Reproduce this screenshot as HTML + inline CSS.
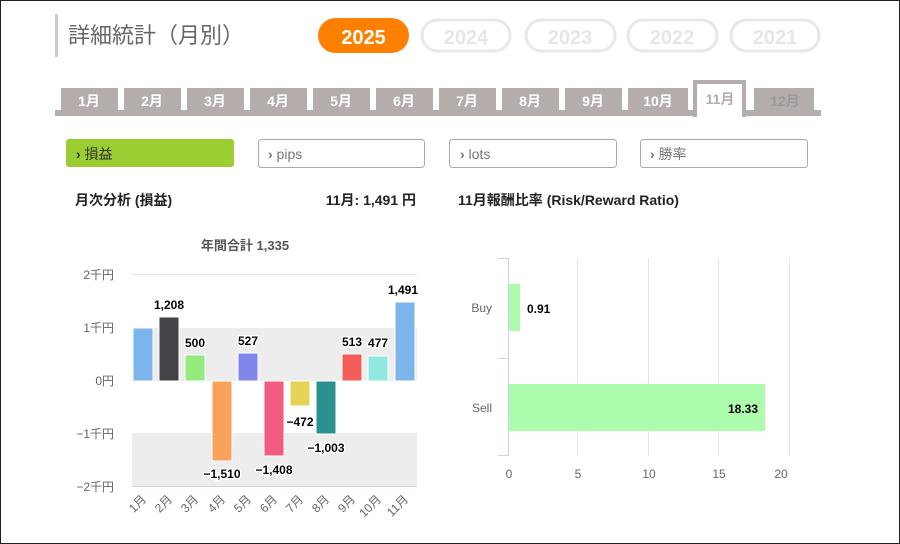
<!DOCTYPE html>
<html><head><meta charset="utf-8"><style>
html,body{margin:0;padding:0;background:#fff}
body{width:900px;height:544px;overflow:hidden;position:relative;font-family:"Liberation Sans","Noto Sans CJK JP",sans-serif}
.frame{position:absolute;left:0;top:0;width:898px;height:542px;border:1px solid #222}
svg{position:absolute;left:0;top:0}
</style></head><body>
<div class="frame"></div>
<svg width="900" height="544" viewBox="0 0 900 544" font-family="Liberation Sans, Noto Sans CJK JP, sans-serif">
<rect x="55" y="14" width="3" height="43" fill="#ccc"/>
<text x="68" y="43" font-size="22" fill="#666">詳細統計（月別）</text>
<rect x="318" y="18" width="91" height="35" rx="17.5" fill="#ff8000"/>
<text x="363.5" y="44" font-size="20" font-weight="bold" fill="#fff" text-anchor="middle">2025</text>
<g fill="none" stroke="#e8e8e8" stroke-width="3">
<rect x="422" y="20" width="88" height="31" rx="15.5"/><rect x="526" y="20" width="89" height="31" rx="15.5"/>
<rect x="628" y="20" width="89" height="31" rx="15.5"/><rect x="731" y="20" width="88" height="31" rx="15.5"/></g>
<g font-size="20" font-weight="bold" fill="#e6e6e6" text-anchor="middle">
<text x="466" y="44">2024</text><text x="570" y="44">2023</text><text x="672" y="44">2022</text><text x="775" y="44">2021</text></g>
<rect x="55" y="110" width="766" height="6" fill="#b5acac"/>
<g fill="#b5acac">
<rect x="61" y="88" width="57" height="24"/><rect x="124" y="88" width="57" height="24"/><rect x="187" y="88" width="57" height="24"/>
<rect x="250" y="88" width="57" height="24"/><rect x="313" y="88" width="57" height="24"/><rect x="376" y="88" width="57" height="24"/>
<rect x="439" y="88" width="57" height="24"/><rect x="502" y="88" width="57" height="24"/><rect x="565" y="88" width="57" height="24"/>
<rect x="628" y="88" width="60" height="24"/><rect x="754" y="88" width="60" height="24"/></g>
<rect x="693" y="80" width="53" height="37" fill="#b5acac"/><rect x="697" y="84" width="45" height="33" fill="#fff"/>
<g font-size="14" font-weight="bold" fill="#fff" text-anchor="middle">
<text x="89" y="106">1月</text><text x="152" y="106">2月</text><text x="215" y="106">3月</text><text x="278" y="106">4月</text>
<text x="341" y="106">5月</text><text x="404" y="106">6月</text><text x="467" y="106">7月</text><text x="530" y="106">8月</text>
<text x="593" y="106">9月</text><text x="658" y="106">10月</text><text x="720" y="104" fill="#b5acac">11月</text><text x="785" y="106" fill="#a09999">12月</text></g>
<rect x="66" y="139" width="168" height="28" rx="3" fill="#9acd32"/>
<g fill="#fff" stroke="#aaa" stroke-width="1"><rect x="258.5" y="139.5" width="166" height="28" rx="3"/><rect x="449.5" y="139.5" width="167" height="28" rx="3"/><rect x="640.5" y="139.5" width="167" height="28" rx="3"/></g>
<text x="76" y="159" font-size="14" fill="#333"><tspan font-weight="bold">›</tspan> 損益</text>
<text x="268" y="159" font-size="14" fill="#777"><tspan font-weight="bold">›</tspan> pips</text>
<text x="460" y="159" font-size="14" fill="#777"><tspan font-weight="bold">›</tspan> lots</text>
<text x="650" y="159" font-size="14" fill="#777"><tspan font-weight="bold">›</tspan> 勝率</text>
<g font-size="14" font-weight="bold" fill="#222">
<text x="75" y="205">月次分析 (損益)</text><text x="416" y="205" text-anchor="end">11月:  1,491 円</text>
<text x="458" y="205">11月報酬比率 (Risk/Reward Ratio)</text></g>
<text x="245" y="250" font-size="13" font-weight="bold" fill="#555" text-anchor="middle">年間合計 1,335</text>
<rect x="132" y="328" width="285" height="53" fill="#ededed"/><rect x="132" y="433" width="285" height="53" fill="#ededed"/>
<line x1="132" y1="274.5" x2="417" y2="274.5" stroke="#e6e6e6"/><line x1="132" y1="486.5" x2="417" y2="486.5" stroke="#ccd6eb"/>
<g font-size="12" fill="#666" text-anchor="end">
<text x="114" y="279">2千円</text><text x="114" y="332">1千円</text><text x="114" y="385">0円</text><text x="114" y="438">−1千円</text><text x="114" y="491">−2千円</text></g>
<g stroke="#fff" stroke-width="1">
<rect x="133" y="328" width="20" height="53" fill="#7cb5ec"/>
<rect x="159" y="317" width="20" height="64" fill="#434348"/>
<rect x="185" y="355" width="20" height="26" fill="#90ed7d"/>
<rect x="212" y="381" width="20" height="80" fill="#f7a35c"/>
<rect x="238" y="353" width="20" height="28" fill="#8085e9"/>
<rect x="264" y="381" width="20" height="75" fill="#f15c80"/>
<rect x="290" y="381" width="20" height="25" fill="#e4d354"/>
<rect x="316" y="381" width="20" height="53" fill="#2b908f"/>
<rect x="342" y="354" width="20" height="27" fill="#f45b5b"/>
<rect x="368" y="356" width="20" height="25" fill="#91e8e1"/>
<rect x="395" y="302" width="20" height="79" fill="#7cb5ec"/></g>
<g font-size="12" font-weight="bold" fill="#000" text-anchor="middle" stroke="#fff" stroke-width="3" paint-order="stroke">
<text x="169" y="309">1,208</text><text x="195" y="347">500</text><text x="222" y="478">−1,510</text><text x="248" y="345">527</text>
<text x="274" y="474">−1,408</text><text x="300" y="426">−472</text><text x="326" y="452">−1,003</text><text x="352" y="346">513</text>
<text x="378" y="347">477</text><text x="403" y="294">1,491</text></g>
<g font-size="12" fill="#666" text-anchor="end">
<text transform="translate(147,500) rotate(-45)">1月</text><text transform="translate(173,500) rotate(-45)">2月</text>
<text transform="translate(199,500) rotate(-45)">3月</text><text transform="translate(226,500) rotate(-45)">4月</text>
<text transform="translate(252,500) rotate(-45)">5月</text><text transform="translate(278,500) rotate(-45)">6月</text>
<text transform="translate(304,500) rotate(-45)">7月</text><text transform="translate(330,500) rotate(-45)">8月</text>
<text transform="translate(356,500) rotate(-45)">9月</text><text transform="translate(382,500) rotate(-45)">10月</text>
<text transform="translate(409,500) rotate(-45)">11月</text></g>
<g stroke="#e6e6e6"><line x1="577.5" y1="258" x2="577.5" y2="456"/><line x1="648.5" y1="258" x2="648.5" y2="456"/><line x1="718.5" y1="258" x2="718.5" y2="456"/><line x1="789.5" y1="258" x2="789.5" y2="456"/></g>
<g stroke="#ccd6eb"><line x1="508.5" y1="258" x2="508.5" y2="456"/><line x1="498" y1="258.5" x2="508" y2="258.5"/><line x1="498" y1="358.5" x2="508" y2="358.5"/><line x1="498" y1="455.5" x2="508" y2="455.5"/></g>
<rect x="509" y="284" width="11" height="47" fill="#adfcad"/>
<rect x="509" y="384" width="256" height="47" fill="#adfcad"/>
<g font-size="12" fill="#666" text-anchor="end"><text x="492" y="312">Buy</text><text x="492" y="412">Sell</text></g>
<g font-size="12" font-weight="bold" fill="#000"><text x="527" y="313">0.91</text><text x="758" y="413" text-anchor="end">18.33</text></g>
<g font-size="12" fill="#666" text-anchor="middle"><text x="509" y="478">0</text><text x="578" y="478">5</text><text x="649" y="478">10</text><text x="719" y="478">15</text><text x="781" y="478">20</text></g>
</svg>
</body></html>
